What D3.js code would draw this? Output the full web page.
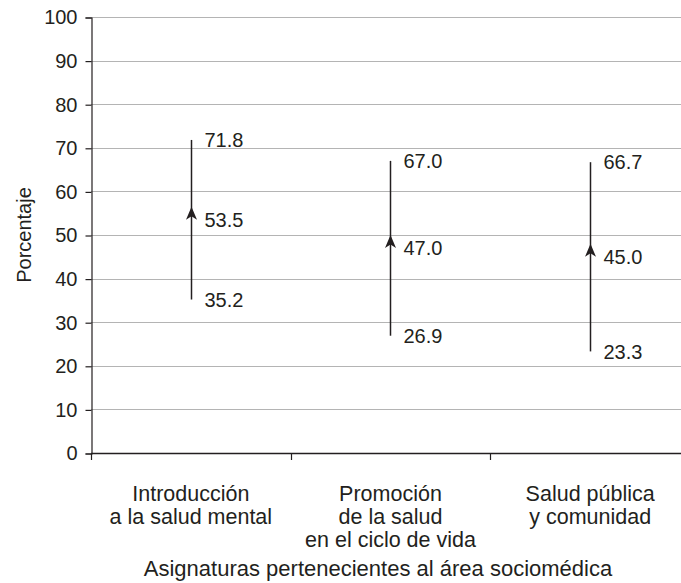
<!DOCTYPE html>
<html>
<head>
<meta charset="utf-8">
<script src="https://cdn.jsdelivr.net/npm/d3@7"></script>
<style>
  html, body { margin: 0; padding: 0; background: #fff; }
  svg { display: block; }
  text { font-family: "Liberation Sans", Arial, Helvetica, sans-serif; fill: #231f20; }
</style>
</head>
<body>
<svg id="chart" width="681" height="583"></svg>
<script>
// Subjects (each label split into its display lines)
const categories = [
  ["Introducción", "a la salud mental"],
  ["Promoción", "de la salud", "en el ciclo de vida"],
  ["Salud pública", "y comunidad"]
];
const highValues = [71.8, 67.0, 66.7];
const meanValues = [53.5, 47.0, 45.0];
const lowValues  = [35.2, 26.9, 23.3];
const yTicks = [0, 10, 20, 30, 40, 50, 60, 70, 80, 90, 100];
const yTitle = "Porcentaje";
const xTitle = "Asignaturas pertenecientes al área sociomédica";

const svg = d3.select("#chart");
const margin = { left: 91, top: 17, right: -9, bottom: 130 };
const W = 681, H = 583;
const plotBottom = 453;

const keys = categories.map((c, i) => i);
const x = d3.scaleBand().domain(keys).range([margin.left, W - margin.right]).padding(0);
const y = d3.scaleLinear().domain([0, 100]).range([plotBottom, margin.top]);

const ink = "#231f20";

// horizontal gridlines
svg.append("g")
  .selectAll("line")
  .data(yTicks.filter(t => t > 0))
  .join("line")
  .attr("x1", margin.left).attr("x2", W)
  .attr("y1", d => Math.round(y(d)) + 0.5).attr("y2", d => Math.round(y(d)) + 0.5)
  .attr("stroke", "#b4b4b4").attr("stroke-width", 1);

// y axis
const yAxis = svg.append("g")
  .attr("transform", `translate(${margin.left + 0.5},0.5)`)
  .call(d3.axisLeft(y).tickValues(yTicks).tickSize(6).tickPadding(8).tickFormat(d3.format("d")));
yAxis.selectAll("path, line").attr("stroke", ink).attr("stroke-width", 1.2);
yAxis.selectAll("text").attr("font-size", 20).attr("fill", ink)
  .style("font-family", '"Liberation Sans", Arial, sans-serif');

// x axis: ticks on the category boundaries
const xAxisG = svg.append("g");
xAxisG.append("line")
  .attr("x1", margin.left).attr("x2", W)
  .attr("y1", plotBottom + 0.5).attr("y2", plotBottom + 0.5)
  .attr("stroke", ink).attr("stroke-width", 1.4);
xAxisG.selectAll("line.tick")
  .data(keys)
  .join("line")
  .attr("class", "tick")
  .attr("x1", d => Math.round(x(d)) + 0.5).attr("x2", d => Math.round(x(d)) + 0.5)
  .attr("y1", plotBottom).attr("y2", plotBottom + 7)
  .attr("stroke", ink).attr("stroke-width", 1.2);

// category labels
const catLabels = svg.append("g").selectAll("text")
  .data(categories)
  .join("text")
  .attr("text-anchor", "middle")
  .attr("font-size", 21.5)
  .attr("x", (d, i) => x(i) + x.bandwidth() / 2)
  .attr("y", 501);
catLabels.selectAll("tspan")
  .data(d => d)
  .join("tspan")
  .attr("x", function() { return this.parentNode.getAttribute("x"); })
  .attr("dy", (d, i) => i === 0 ? 0 : 23)
  .text(d => d);

// axis titles
svg.append("text")
  .attr("text-anchor", "middle")
  .attr("font-size", 22)
  .attr("x", 378)
  .attr("y", 576)
  .text(xTitle);

svg.append("text")
  .attr("text-anchor", "middle")
  .attr("font-size", 20)
  .attr("transform", `translate(31,${y(50)}) rotate(-90)`)
  .text(yTitle);

// high-low lines with arrowhead at the mean
const cx = i => Math.round(x(i) + x.bandwidth() / 2) + 0.5;
const marks = svg.append("g");
marks.selectAll("line.range")
  .data(keys)
  .join("line")
  .attr("class", "range")
  .attr("x1", cx).attr("x2", cx)
  .attr("y1", i => y(highValues[i])).attr("y2", i => y(lowValues[i]))
  .attr("stroke", ink).attr("stroke-width", 1.5);

marks.selectAll("path.mean")
  .data(keys)
  .join("path")
  .attr("class", "mean")
  .attr("transform", i => `translate(${cx(i)},${y(meanValues[i])})`)
  .attr("d", "M0,-13 L5.5,0 L0,-3.5 L-5.5,0 Z")
  .attr("fill", ink);

// value labels
const fmt = d3.format(".1f");
const labelRows = [
  ...keys.map(i => ({ i, v: highValues[i] })),
  ...keys.map(i => ({ i, v: meanValues[i] })),
  ...keys.map(i => ({ i, v: lowValues[i] }))
];
marks.selectAll("text.val")
  .data(labelRows)
  .join("text")
  .attr("class", "val")
  .attr("font-size", 20)
  .attr("x", d => cx(d.i) + 13)
  .attr("y", d => y(d.v))
  .attr("dy", "0.36em")
  .text(d => fmt(d.v));
</script>
</body>
</html>
